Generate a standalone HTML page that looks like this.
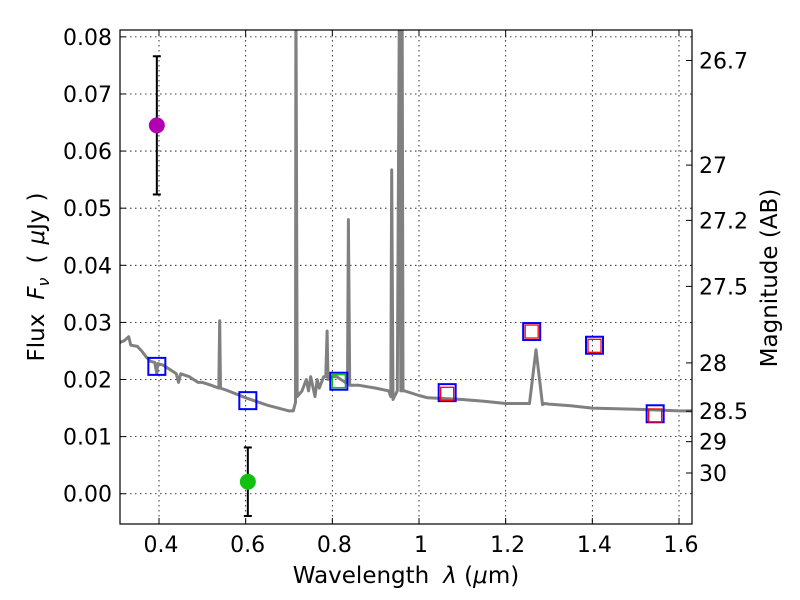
<!DOCTYPE html>
<html><head><meta charset="utf-8"><style>
body{margin:0;background:#fff;}
svg{display:block;font-family:"DejaVu Sans","Liberation Sans",sans-serif;}
</style></head><body>
<svg id="chart" width="800" height="600">
<defs><clipPath id="clip"><rect x="120" y="30" width="572" height="494"/></clipPath></defs>
<rect x="0" y="0" width="800" height="600" fill="#fff"/>
<g id="grid"></g>
<g id="spec" clip-path="url(#clip)"></g>
<g id="marks"></g>
<rect x="120" y="30" width="572" height="494" fill="none" stroke="#000" stroke-width="1.2"/>
<g id="axes"></g>
<text x="406" y="583" font-size="23" text-anchor="middle">Wavelength<tspan dx="14" font-style="italic">λ</tspan> (<tspan font-style="italic">μ</tspan>m)</text>
<text transform="translate(44,277) rotate(-90)" font-size="23" text-anchor="middle">Flux<tspan dx="14" font-style="italic">F</tspan><tspan font-style="italic" font-size="16" dy="5">ν</tspan><tspan dy="-5" dx="14">(</tspan><tspan dx="10" font-style="italic">μ</tspan>Jy<tspan dx="8">)</tspan></text>
<text transform="translate(777,278) rotate(-90)" font-size="23" text-anchor="middle">Magnitude (AB)</text>
</svg>
<script>
const xTicks=[0.4,0.6,0.8,1.0,1.2,1.4,1.6];
const xTickLabels=["0.4","0.6","0.8","1","1.2","1.4","1.6"];
const yTicks=[0,0.01,0.02,0.03,0.04,0.05,0.06,0.07,0.08];
const yTickLabels=["0.00","0.01","0.02","0.03","0.04","0.05","0.06","0.07","0.08"];
const magTicks=[26.7,27,27.2,27.5,28,28.5,29,30];
const magTickLabels=["26.7","27","27.2","27.5","28","28.5","29","30"];
const specWave=[0.31,0.32,0.33,0.335,0.35,0.36,0.37,0.38,0.39,0.395,0.397,0.41,0.43,0.44,0.445,0.45,0.47,0.49,0.5,0.52,0.538,0.54,0.542,0.56,0.6,0.65,0.7,0.71,0.715,0.716,0.719,0.73,0.74,0.745,0.75,0.76,0.765,0.77,0.78,0.785,0.788,0.79,0.8,0.81,0.83,0.835,0.837,0.84,0.86,0.9,0.93,0.935,0.937,0.94,0.95,0.955,0.958,0.961,0.963,0.967,1.0,1.02,1.05,1.1,1.15,1.2,1.255,1.27,1.285,1.29,1.3,1.35,1.4,1.5,1.6,1.63];
const specFlux=[0.0265,0.0268,0.0275,0.026,0.0258,0.025,0.024,0.0232,0.023,0.021,0.0228,0.0225,0.0215,0.021,0.0195,0.021,0.0205,0.0195,0.0195,0.019,0.0185,0.0303,0.0185,0.018,0.0168,0.0155,0.0145,0.0145,0.016,0.09,0.017,0.018,0.02,0.018,0.0205,0.017,0.02,0.0185,0.0205,0.0205,0.0285,0.02,0.0205,0.0205,0.0195,0.0195,0.048,0.019,0.019,0.0185,0.018,0.017,0.0567,0.0165,0.018,0.09,0.018,0.09,0.018,0.018,0.0172,0.0168,0.0167,0.0165,0.0162,0.0158,0.0158,0.0252,0.0156,0.0158,0.0157,0.0154,0.015,0.0148,0.0145,0.0145];
const bandWave=[0.395,0.605,0.815,1.065,1.26,1.405,1.545];
const bandFlux=[0.0223,0.0163,0.0197,0.0177,0.0284,0.026,0.014];
const modelWave=[0.815,1.065,1.26,1.405,1.545];
const modelFlux=[0.0197,0.0175,0.0284,0.0259,0.0137];
const modelColor=["#0b0","red","red","red","red"];
const obsWave=[0.395,0.605];
const obsFlux=[0.0645,0.0021];
const obsErr=[0.0121,0.006];
const obsColor=["#b000b0","#11c011"];

const X0=0.31,X1=1.63,Y0=-0.0053,Y1=0.0812;
const xs=v=>120+(v-X0)/(X1-X0)*572;
const ys=v=>524-(v-Y0)/(Y1-Y0)*494;
const NS="http://www.w3.org/2000/svg";
function mk(tag,attrs,parent,txt){const e=document.createElementNS(NS,tag);for(const k in attrs)e.setAttribute(k,attrs[k]);if(txt!==undefined)e.textContent=txt;document.getElementById(parent).appendChild(e);return e;}
xTicks.forEach((t,i)=>{const x=xs(t);
 let g=mk('line',{x1:x,x2:x,y1:30,y2:524,stroke:'#000','stroke-width':0.8,'stroke-dasharray':'1.5,3.5'},'grid');
 
 mk('line',{x1:x,x2:x,y1:524,y2:518,stroke:'#000'},'axes');mk('line',{x1:x,x2:x,y1:30,y2:36,stroke:'#000'},'axes');
 let l=mk('text',{x:x+2,y:552,'font-size':22,'text-anchor':'middle'},'axes',xTickLabels[i]);
 });
yTicks.forEach((t,i)=>{const y=ys(t);
 let g=mk('line',{x1:120,x2:692,y1:y,y2:y,stroke:'#000','stroke-width':0.8,'stroke-dasharray':'1.5,3.5'},'grid');
 
 mk('line',{x1:120,x2:126,y1:y,y2:y,stroke:'#000'},'axes');
 let l=mk('text',{x:112,y:y+8,'font-size':22,'text-anchor':'end'},'axes',yTickLabels[i]);
 });
magTicks.forEach((m,i)=>{const f=Math.pow(10,(23.9-m)/2.5);const y=ys(f);
 mk('line',{x1:692,x2:686,y1:y,y2:y,stroke:'#000'},'axes');
 let l=mk('text',{x:699,y:y+8,'font-size':22},'axes',magTickLabels[i]);
 });
let pts=specWave.map((w,i)=>xs(w).toFixed(1)+','+ys(specFlux[i]).toFixed(1)).join(' ');
let sp=mk('polyline',{points:pts,fill:'none',stroke:'#808080','stroke-width':3,'stroke-linejoin':'round'},'spec');

bandWave.forEach((w,i)=>{const x=xs(w),y=ys(bandFlux[i]);
 let r=mk('rect',{x:x-8.5,y:y-8.5,width:17,height:17,fill:'none',stroke:'#00f','stroke-width':2},'marks');
 });
modelWave.forEach((w,i)=>{const x=xs(w),y=ys(modelFlux[i]);
 let r=mk('rect',{x:x-6.5,y:y-6.5,width:13,height:13,fill:'none',stroke:modelColor[i],'stroke-width':1.3},'marks');
 });
obsWave.forEach((w,i)=>{const x=xs(w),y=ys(obsFlux[i]),yt=ys(obsFlux[i]+obsErr[i]),yb=ys(obsFlux[i]-obsErr[i]);
 let e=mk('line',{x1:x,x2:x,y1:yt,y2:yb,stroke:'#000','stroke-width':2},'marks');
 
 mk('line',{x1:x-4,x2:x+4,y1:yt,y2:yt,stroke:'#000','stroke-width':2},'marks');
 mk('line',{x1:x-4,x2:x+4,y1:yb,y2:yb,stroke:'#000','stroke-width':2},'marks');
 let c=mk('circle',{cx:x,cy:y,r:8,fill:obsColor[i]},'marks');
 });
</script>
</body></html>
